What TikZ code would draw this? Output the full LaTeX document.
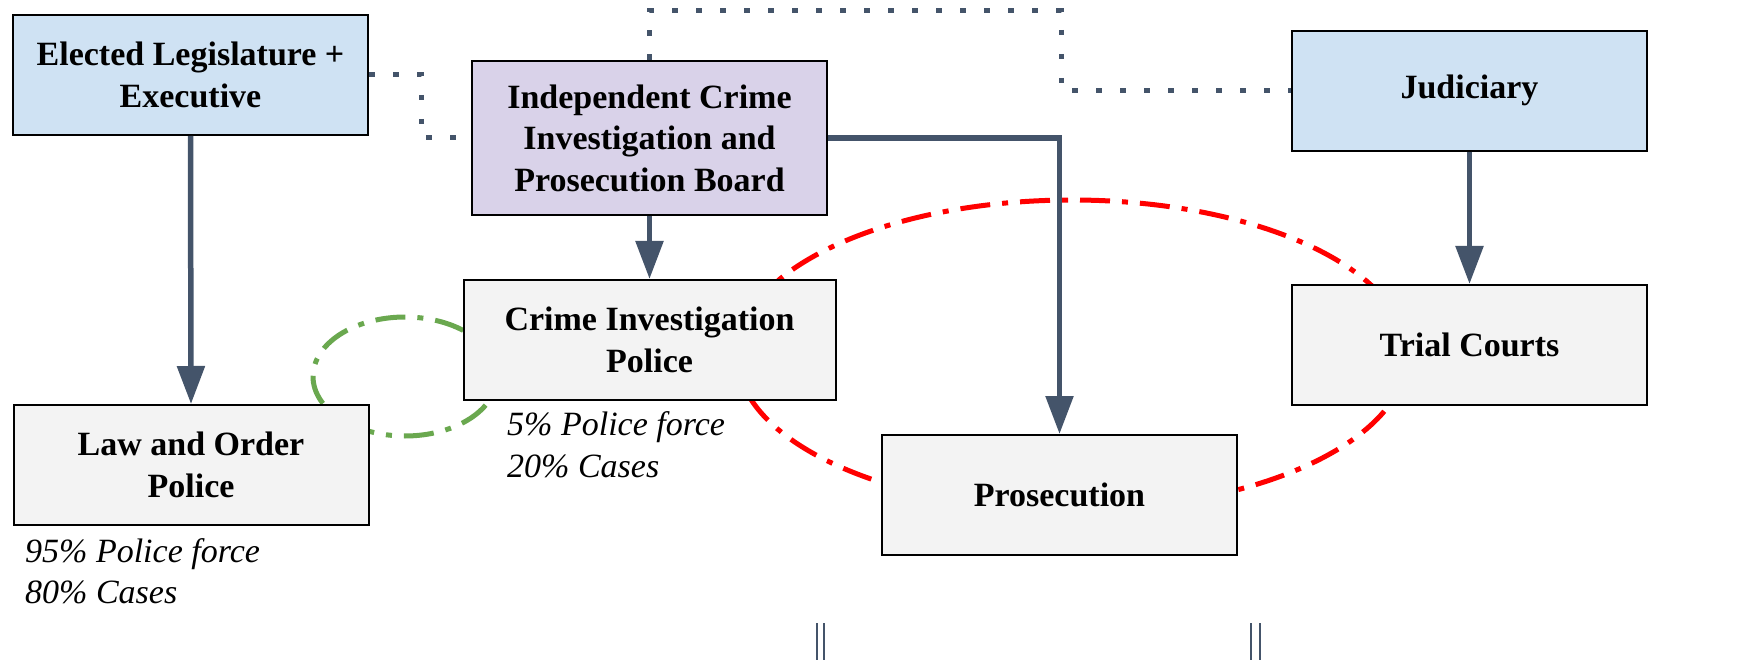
\documentclass[tikz,border=0pt]{standalone}
\usepackage{fontspec}
\setmainfont{Liberation Serif}
\usetikzlibrary{arrows.meta}
\definecolor{slate}{HTML}{44546A}
\definecolor{lblue}{HTML}{CFE2F3}
\definecolor{lpurple}{HTML}{D9D2E9}
\definecolor{lgray}{HTML}{F3F3F3}
\definecolor{lgreen}{HTML}{6AA84F}
\definecolor{rred}{HTML}{FF0000}
\tikzset{
  box/.style={draw=black, line width=2pt, inner sep=0pt, align=center,
    minimum height=120pt, minimum width=355pt,
    font=\fontsize{34}{41.5}\selectfont\bfseries},
  flow/.style={draw=slate, line width=5.5pt,
    -{Triangle[length=38pt,width=27pt]}},
  dotline/.style={draw=slate, line width=5pt, dash pattern=on 5.5pt off 18.5pt},
  dashdot/.style={line width=5pt, dash pattern=on 30pt off 12pt on 6pt off 12pt},
  note/.style={anchor=base west, inner sep=0pt,
    font=\fontsize{34}{41.5}\selectfont\itshape},
  bar/.style={draw=slate, line width=2pt}
}
\begin{document}
\begin{tikzpicture}[x=1pt,y=-1pt]
\useasboundingbox (0,0) rectangle (1763,660);
% background ellipses
\draw[dashdot, draw=rred] (1072,355) ellipse [x radius=335pt, y radius=155pt];
\draw[dashdot, draw=lgreen] (405,376.5) ellipse [x radius=92pt, y radius=59.5pt];
% boxes
\node[box, fill=lblue] (E) at (190.5,75) {Elected Legislature +\\Executive};
\node[box, fill=lpurple, minimum height=154pt] (B) at (649.5,138) {Independent Crime\\Investigation and\\Prosecution Board};
\node[box, fill=lblue] (J) at (1469.5,90.7) {Judiciary};
\node[box, fill=lgray, minimum width=372pt] (C) at (649.5,340) {Crime Investigation\\Police};
\node[box, fill=lgray] (T) at (1469.5,345) {Trial Courts};
\node[box, fill=lgray] (L) at (191,465) {Law and Order\\Police};
\node[box, fill=lgray] (P) at (1059.5,495) {Prosecution};
% notes
\node[note] (l1) at (25,562) {95\% Police force};
\node[note] (l2) at (25,603) {80\% Cases};
\node[note] (c1) at (507,435) {5\% Police force};
\node[note] (c2) at (507,477) {20\% Cases};
% dotted links
\draw[dotline] (E.east) -- ++(52,0) |- (B.west);
\coordinate (d1) at (1061,10.7);
\draw[dotline] (B.north) |- (d1) |- (J.west);
% arrows
\draw[flow] (E.south) -- (L.north);
\draw[flow] (B.south) -- (C.north);
\draw[flow] (B.east) -| (P.north);
\draw[flow] (J.south) -- (T.north);
% bottom bars
\coordinate (b1) at (817,623); \coordinate (b2) at (823.5,623);
\coordinate (b3) at (1251,623); \coordinate (b4) at (1260,623);
\draw[bar] (b1) -- ++(0,37);
\draw[bar] (b2) -- ++(0,37);
\draw[bar] (b3) -- ++(0,37);
\draw[bar] (b4) -- ++(0,37);
\end{tikzpicture}
\end{document}
